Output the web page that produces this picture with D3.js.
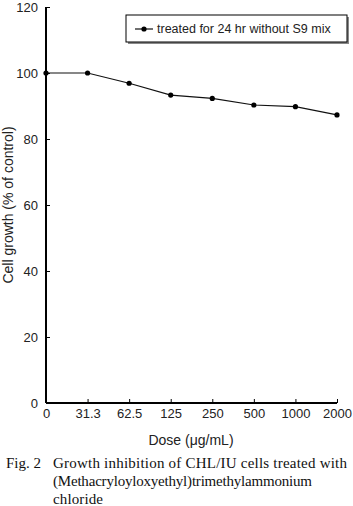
<!DOCTYPE html>
<html><head><meta charset="utf-8">
<script src="https://cdn.jsdelivr.net/npm/d3@7"></script>
<style>html,body{margin:0;padding:0;background:#fff;}svg{display:block;}</style>
</head><body>
<script>
const doses = ["0","31.3","62.5","125","250","500","1000","2000"];
const growth = [100, 100, 96.9, 93.3, 92.3, 90.3, 89.8, 87.3];
const yTicks = [0,20,40,60,80,100,120];
const seriesName = "treated for 24 hr without S9 mix";
const xTitle = "Dose (\u03bcg/mL)";
const yTitle = "Cell growth (% of control)";
const captionLines = ["Growth inhibition of CHL/IU cells treated with","(Methacryloyloxyethyl)trimethylammonium","chloride"];
const figLabel = "Fig. 2";

const W=353,H=506;
const svg=d3.select("body").append("svg").attr("width",W).attr("height",H);
const x=d3.scalePoint().domain(doses).range([46,337]);
const y=d3.scaleLinear().domain([0,120]).range([403,7]);
const font="'Liberation Sans', Arial, sans-serif";

// axes
const gx=svg.append("g").attr("transform","translate(0,403)")
  .call(d3.axisBottom(x).tickSize(-4).tickPadding(8));
gx.select(".domain").attr("stroke","#000").attr("stroke-width",2).attr("d","M46,0H337");
gx.selectAll(".tick line").attr("stroke","#000");
gx.selectAll(".tick text").attr("font-family",font).attr("font-size",13).attr("fill","#222").attr("dy","0.9em").attr("y",3);

const gy=svg.append("g").attr("transform","translate(46,0)")
  .call(d3.axisLeft(y).tickValues(yTicks).tickSize(-4).tickPadding(8));
gy.select(".domain").attr("stroke","#000").attr("stroke-width",2).attr("d","M0,7V403");
gy.selectAll(".tick line").attr("stroke","#000");
gy.selectAll(".tick text").attr("font-family",font).attr("font-size",13).attr("fill","#222");

// line
svg.append("path").datum(growth.map((v,i)=>[doses[i],v]))
  .attr("fill","none").attr("stroke","#111").attr("stroke-width",1.2)
  .attr("d",d3.line().x(d=>x(d[0])).y(d=>y(d[1])));
svg.selectAll("circle.pt").data(growth).join("circle").attr("class","pt")
  .attr("cx",(d,i)=>x(doses[i])).attr("cy",d=>y(d)).attr("r",2.6).attr("fill","#000");

// legend
const lg=svg.append("g");
lg.append("rect").attr("x",128).attr("y",17).attr("width",221).attr("height",27).attr("fill","#888");
lg.append("rect").attr("x",126).attr("y",15).attr("width",221).attr("height",27).attr("fill","#fff").attr("stroke","#000").attr("stroke-width",1);
lg.append("line").attr("x1",135).attr("x2",153).attr("y1",29).attr("y2",29).attr("stroke","#111").attr("stroke-width",1.2);
lg.append("circle").attr("cx",144).attr("cy",29).attr("r",2.6).attr("fill","#000");
lg.append("text").attr("x",157).attr("y",33).attr("font-family",font).attr("font-size",12.5).attr("fill","#222").text(seriesName);

// axis titles
svg.append("text").attr("x",191).attr("y",445).attr("text-anchor","middle").attr("font-family",font).attr("font-size",14).attr("fill","#222").text(xTitle);
svg.append("text").attr("transform","translate(13,205) rotate(-90)").attr("text-anchor","middle").attr("font-family",font).attr("font-size",14).attr("fill","#222").text(yTitle);

// caption
const serif="'Liberation Serif','DejaVu Serif',serif";
const capLens=[294,259,50];
svg.append("text").attr("x",6).attr("y",468).attr("font-family",serif).attr("font-size",15).attr("fill","#111").text(figLabel);
captionLines.forEach((t,i)=>{
  svg.append("text").attr("x",53).attr("y",468+i*18).attr("font-family",serif).attr("font-size",15).attr("fill","#111")
    .attr("textLength",capLens[i]).attr("lengthAdjust","spacing").text(t);
});
</script>
</body></html>
